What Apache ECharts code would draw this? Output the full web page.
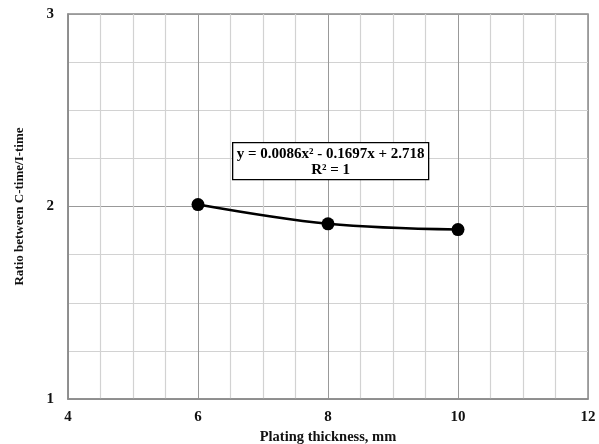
<!DOCTYPE html>
<html>
<head>
<meta charset="utf-8">
<script src="https://cdn.jsdelivr.net/npm/echarts@6/dist/echarts.min.js"></script>
<style>
html,body{margin:0;padding:0;background:#fff;}
#chart{width:599px;height:444px;}
</style>
</head>
<body>
<div id="chart"></div>
<script>
// plating thickness (mm) vs ratio
var thickness = [6, 8, 10];
var ratio = [2.01, 1.91, 1.88];
var equationLines = ['y = 0.0086x² - 0.1697x + 2.718', 'R² = 1'];

var font = '"Liberation Serif", "Times New Roman", serif';
var chart = echarts.init(document.getElementById('chart'));
var option = {
    animation: false,
    grid: {
        left: 68, right: 11, top: 14, bottom: 45,
        outerBoundsMode: 'none', containLabel: false,
        show: true, borderColor: '#8a8a8a', borderWidth: 1.5
    },
    xAxis: {
        type: 'value', min: 4, max: 12, interval: 2,
        name: 'Plating thickness, mm',
        nameLocation: 'middle', nameGap: 31,
        nameTextStyle: {fontFamily: font, fontWeight: 'bold', fontSize: 14.5, color: '#111'},
        axisLine: {show: true, lineStyle: {color: '#8a8a8a', width: 1.5}},
        axisTick: {show: false},
        axisLabel: {fontFamily: font, fontWeight: 'bold', fontSize: 15, color: '#111', margin: 11},
        splitLine: {show: true, lineStyle: {color: '#999', width: 1}},
        minorTick: {show: false, splitNumber: 4},
        minorSplitLine: {show: true, lineStyle: {color: '#d2d2d2', width: 1.2}}
    },
    yAxis: {
        type: 'value', min: 1, max: 3, interval: 1,
        name: 'Ratio between C-time/I-time',
        nameLocation: 'middle', nameGap: 42, nameRotate: 90,
        nameTextStyle: {fontFamily: font, fontWeight: 'bold', fontSize: 13, color: '#111'},
        axisLine: {show: true, lineStyle: {color: '#8a8a8a', width: 1.5}},
        axisTick: {show: false},
        axisLabel: {fontFamily: font, fontWeight: 'bold', fontSize: 15, color: '#111', margin: 14},
        splitLine: {show: true, lineStyle: {color: '#999', width: 1}},
        minorTick: {show: false, splitNumber: 4},
        minorSplitLine: {show: true, lineStyle: {color: '#d2d2d2', width: 1.2}}
    },
    graphic: [{
        type: 'group',
        left: 232, top: 142,
        z: 100,
        children: [{
            type: 'rect',
            z: 100,
            shape: {x: 0, y: 0, width: 196, height: 37},
            style: {fill: '#fff', stroke: '#000', lineWidth: 1.3}
        }, {
            type: 'text',
            z: 101,
            x: 98, y: 4,
            style: {text: equationLines[0], font: 'bold 15px ' + font, fill: '#000', textAlign: 'center', align: 'center'}
        }, {
            type: 'text',
            z: 101,
            x: 98, y: 20,
            style: {text: equationLines[1], font: 'bold 15px ' + font, fill: '#000', textAlign: 'center', align: 'center'}
        }]
    }],
    series: [{
        type: 'line',
        data: thickness.map(function (x, i) { return [x, ratio[i]]; }),
        smooth: 0.35,
        symbol: 'circle',
        symbolSize: 13,
        itemStyle: {color: '#000'},
        lineStyle: {color: '#000', width: 2.5}
    }]
};
chart.setOption(option);
</script>
</body>
</html>
